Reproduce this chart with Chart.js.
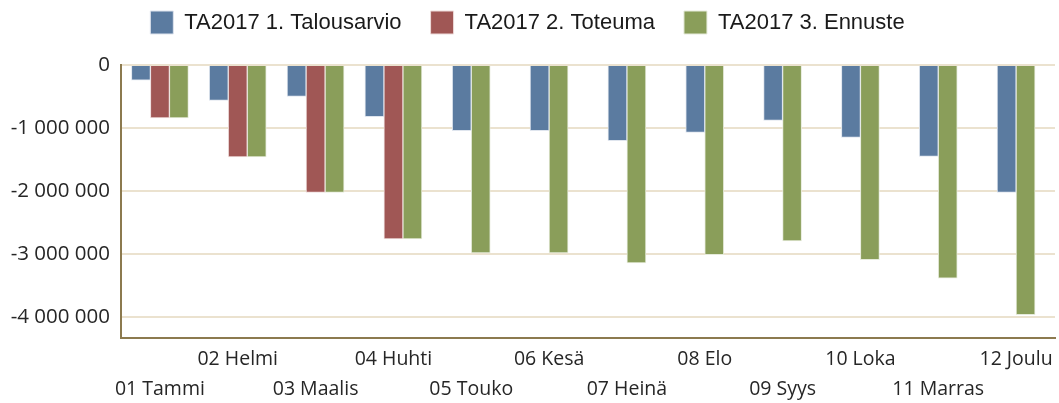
<!DOCTYPE html>
<html>
<head>
<meta charset="utf-8">
<script src="https://cdn.jsdelivr.net/npm/chart.js@4"></script>
<style>
    body { margin: 0; background: #fff; }
    #wrap { width: 1059px; height: 403px; position: relative; }
</style>
</head>
<body>
<div id="wrap"><canvas id="budgetChart"></canvas></div>
<script>
const months = ['01 Tammi', '02 Helmi', '03 Maalis', '04 Huhti', '05 Touko', '06 Kesä',
    '07 Heinä', '08 Elo', '09 Syys', '10 Loka', '11 Marras', '12 Joulu'];

const talousarvio = [-240000, -560000, -500000, -820000, -1040000, -1040000,
    -1200000, -1070000, -880000, -1150000, -1450000, -2020000];
const toteuma = [-840000, -1460000, -2020000, -2760000, null, null,
    null, null, null, null, null, null];
const ennuste = [-840000, -1460000, -2020000, -2760000, -2980000, -2980000,
    -3140000, -3010000, -2790000, -3090000, -3380000, -3960000];

const yTicks = [0, -1000000, -2000000, -3000000, -4000000];
const yMin = -4330000;

function formatNumber(v) {
    const s = String(Math.abs(v)).replace(/\B(?=(\d{3})+(?!\d))/g, ' ');
    return (v < 0 ? '-' : '') + s;
}

// legend keeps wide item spacing but needs extra room below it
const legendSpacer = {
    id: 'legendSpacer',
    beforeLayout(chart) {
        const legend = chart.legend;
        if (legend && !legend._spaced) {
            const fit = legend.fit;
            legend.fit = function() {
                fit.call(this);
                this.height = 83;
            };
            legend._spaced = true;
        }
    }
};

document.addEventListener('DOMContentLoaded', () => {
    const ctx = document.getElementById('budgetChart').getContext('2d');
    const axisFont = { family: '"Open Sans", sans-serif', size: 19.5 };

    new Chart(ctx, {
        type: 'bar',
        data: {
            labels: months,
            datasets: [
                { label: 'TA2017 1. Talousarvio', data: talousarvio, backgroundColor: '#5b7ba0', borderColor: '#dfe5ee' },
                { label: 'TA2017 2. Toteuma', data: toteuma, backgroundColor: '#a05755', borderColor: '#eedcdb' },
                { label: 'TA2017 3. Ennuste', data: ennuste, backgroundColor: '#8a9e5a', borderColor: '#e6ebdb' }
            ]
        },
        options: {
            responsive: true,
            maintainAspectRatio: false,
            animation: false,
            skipNull: true,
            barThickness: 19,
            borderWidth: 1,
            layout: { padding: { top: -18, right: 4, left: 0, bottom: -7 } },
            scales: {
                x: {
                    grid: { display: false, drawTicks: false },
                    border: { display: true, color: '#8c7a4f', width: 2 },
                    ticks: {
                        autoSkip: false,
                        maxRotation: 0,
                        minRotation: 0,
                        padding: 6,
                        color: '#262626',
                        font: { ...axisFont, lineHeight: 1.54 },
                        callback: function(value, index) {
                            const lbl = this.getLabelForValue(value);
                            return index % 2 === 0 ? ['', lbl] : lbl; // staggered rows
                        }
                    }
                },
                y: {
                    min: yMin,
                    max: 0,
                    afterBuildTicks: axis => { axis.ticks = yTicks.map(v => ({ value: v })); },
                    afterFit: axis => { axis.width = 121; },
                    grid: { color: '#ebe2cf', lineWidth: 2, drawTicks: false },
                    border: { display: true, color: '#8c7a4f', width: 2 },
                    ticks: {
                        padding: 11,
                        color: '#262626',
                        font: { ...axisFont, size: 20.5 },
                        callback: v => formatNumber(v)
                    }
                }
            },
            plugins: {
                legend: {
                    display: true,
                    labels: {
                        boxWidth: 23,
                        boxHeight: 23,
                        padding: 29,
                        color: '#1a1a1a',
                        font: { family: '"Liberation Sans", Arial, sans-serif', size: 22 }
                    }
                },
                tooltip: { enabled: false }
            }
        },
        plugins: [legendSpacer]
    });
});
</script>
</body>
</html>
